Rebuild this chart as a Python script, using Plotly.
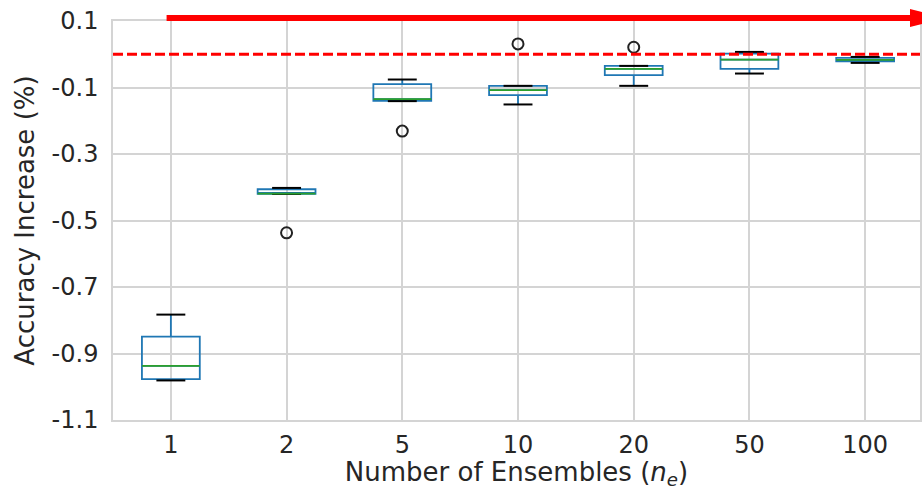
import plotly.graph_objects as go

# Ensemble sizes and per-size box statistics (accuracy increase, %)
ensembles = ["1", "2", "5", "10", "20", "50", "100"]
q1 = [-0.977, -0.420, -0.140, -0.123, -0.063, -0.044, -0.021]
median = [-0.937, -0.419, -0.135, -0.108, -0.044, -0.016, -0.017]
q3 = [-0.849, -0.406, -0.090, -0.095, -0.035, 0.002, -0.011]
low_whisker = [-0.981, -0.420, -0.141, -0.151, -0.095, -0.058, -0.026]
high_whisker = [-0.783, -0.402, -0.076, -0.095, -0.035, 0.007, -0.008]

# Outlier points: (ensemble index, value)
outlier_idx = [1, 2, 3, 4]
outlier_val = [-0.537, -0.231, 0.031, 0.021]

y_ticks = [0.1, -0.1, -0.3, -0.5, -0.7, -0.9, -1.1]
y_tick_text = ["0.1", "-0.1", "-0.3", "-0.5", "-0.7", "-0.9", "-1.1"]

BLUE = "#1f77b4"
GREEN = "#2ca02c"
TEXT = "#262626"
GRID = "#d4d4d4"
BOX_W = 0.5
CAP_W = 0.25

pos = list(range(len(ensembles)))

fig = go.Figure()

fig.add_trace(go.Box(
    x=pos, q1=q1, median=median, q3=q3,
    lowerfence=low_whisker, upperfence=high_whisker,
    width=BOX_W, whiskerwidth=0,
    fillcolor="rgba(0,0,0,0)",
    line=dict(color=BLUE, width=1.8),
    boxpoints=False, hoverinfo="skip", showlegend=False,
))

def segments(values, half):
    xs, ys = [], []
    for p, v in zip(pos, values):
        xs += [p - half, p + half, None]
        ys += [v, v, None]
    return xs, ys

# Whisker caps (black)
for vals in (low_whisker, high_whisker):
    cx, cy = segments(vals, CAP_W / 2)
    fig.add_trace(go.Scatter(x=cx, y=cy, mode="lines",
                             line=dict(color="black", width=2),
                             hoverinfo="skip", showlegend=False))

# Medians (green)
mx, my = segments(median, BOX_W / 2)
fig.add_trace(go.Scatter(x=mx, y=my, mode="lines",
                         line=dict(color=GREEN, width=1.8),
                         hoverinfo="skip", showlegend=False))

# Outliers
fig.add_trace(go.Scatter(
    x=outlier_idx, y=outlier_val, mode="markers",
    marker=dict(symbol="circle-open", size=11, color="#222222",
                line=dict(width=2, color="#222222")),
    hoverinfo="skip", showlegend=False,
))

# Zero reference line
fig.add_shape(type="line", xref="paper", yref="y", x0=0, x1=1, y0=0, y1=0,
              line=dict(color="red", width=3, dash="10px,4px"), layer="above")

# Direction arrow above the plot
fig.add_shape(type="line", xref="paper", yref="paper",
              x0=0.0664, x1=0.988, y0=1.0075, y1=1.0075,
              line=dict(color="red", width=6))
fig.add_shape(type="path", xref="paper", yref="paper",
              path="M 0.9876 1.030 L 1.032 1.0075 L 0.9876 0.985 Z",
              fillcolor="red", line=dict(color="red", width=0))

fig.update_layout(
    width=922, height=490,
    margin=dict(l=113, r=0, t=21, b=70),
    paper_bgcolor="white", plot_bgcolor="white",
    font=dict(family="DejaVu Sans", size=24, color=TEXT),
    xaxis=dict(
        range=[-0.5, 6.474],
        tickmode="array", tickvals=pos, ticktext=ensembles,
        tickfont=dict(size=24),
        showgrid=True, gridcolor=GRID, gridwidth=1.5,
        showline=True, linecolor=GRID, linewidth=1.5, mirror=True,
        zeroline=False, ticks="", ticklabelstandoff=2,
        title=dict(text="Number of Ensembles (<i>n<sub>e</sub></i>)",
                   standoff=2, font=dict(size=26)),
    ),
    yaxis=dict(
        range=[-1.1, 0.1],
        tickmode="array", tickvals=y_ticks, ticktext=y_tick_text,
        tickfont=dict(size=24),
        showgrid=True, gridcolor=GRID, gridwidth=1.5,
        showline=True, linecolor=GRID, linewidth=1.5, mirror=True,
        zeroline=False, ticks="", ticklabelstandoff=8,
        title=dict(text="Accuracy Increase (%)", standoff=10,
                   font=dict(size=26)),
    ),
)

fig.write_html("out.html")
